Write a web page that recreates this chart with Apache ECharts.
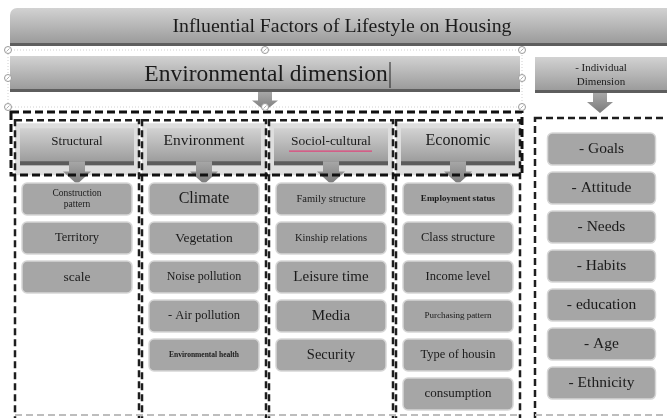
<!DOCTYPE html>
<html><head><meta charset="utf-8">
<script src="https://cdn.jsdelivr.net/npm/echarts@6/dist/echarts.min.js"></script>
<style>html,body{margin:0;padding:0;background:#fff}#c{width:667px;height:418px}</style>
</head><body><div id="c"></div>
<script>
// ---------- content ----------
const chartTitle = 'Influential Factors of Lifestyle on Housing';
const dimensionEnv = 'Environmental dimension';
const dimensionInd = '- Individual\nDimension';
const categories = ['Structural', 'Environment', 'Sociol-cultural', 'Economic'];
const structuralItems = ['Construction\npattern', 'Territory', 'scale'];
const environmentItems = ['Climate', 'Vegetation', 'Noise pollution', '- Air pollution', 'Environmental health'];
const socioCulturalItems = ['Family structure', 'Kinship relations', 'Leisure time', 'Media', 'Security'];
const economicItems = ['Employment status', 'Class structure', 'Income level', 'Purchasing pattern', 'Type of housin', 'consumption'];
const individualItems = ['- Goals', '- Attitude', '- Needs', '- Habits', '- education', '- Age', '- Ethnicity'];

// ---------- styles (kept apart from content) ----------
const headerFontSize = {'Structural': 13, 'Environment': 15.5, 'Sociol-cultural': 13.5, 'Economic': 16};
const itemFontSize = {
  'Construction\npattern': 9.5, 'Territory': 12.5, 'scale': 13.5,
  'Climate': 16, 'Vegetation': 13.5, 'Noise pollution': 12, '- Air pollution': 12.5, 'Environmental health': 7.5,
  'Family structure': 10.5, 'Kinship relations': 10.5, 'Leisure time': 15, 'Media': 15, 'Security': 14.5,
  'Employment status': 9, 'Class structure': 12.5, 'Income level': 12.5, 'Purchasing pattern': 9, 'Type of housin': 12.5, 'consumption': 13
};
const boldItems = {'Environmental health': true, 'Employment status': true};
const FONT = "'Liberation Serif', 'DejaVu Serif', serif";
const TXT = '#1b1b1b';

// layout grid: one unit = one column / one row
const headerRow = -1.38;
const individualCol = 4.13;
const individualRowOffset = -1.28;

const columnLists = [structuralItems, environmentItems, socioCulturalItems, economicItems];
const itemData = [], itemLabels = [];
columnLists.forEach((list, c) => list.forEach((lab, r) => { itemData.push([c, r]); itemLabels.push(lab); }));
individualItems.forEach((lab, r) => { itemData.push([individualCol, r + individualRowOffset]); itemLabels.push(lab); });

const headerGrad = {type:'linear', x:0, y:0, x2:0, y2:1, colorStops:[{offset:0, color:'#d2d2d2'}, {offset:1, color:'#979797'}]};
const arrowGrad = {type:'linear', x:0, y:0, x2:0, y2:1, colorStops:[{offset:0, color:'#a8a8a8'}, {offset:1, color:'#7a7a7a'}]};

function arrowPoints(cx, y0, y1, shaft, head) {
  const ym = y0 + (y1 - y0) * 0.45;
  return [[cx - shaft, y0], [cx + shaft, y0], [cx + shaft, ym], [cx + head, ym], [cx, y1], [cx - head, ym], [cx - shaft, ym]];
}

function renderHeader(params, api) {
  const p = api.coord([api.value(0), api.value(1)]);
  const cx = p[0], cy = p[1];
  const name = categories[params.dataIndex];
  const children = [
    {type:'rect', shape:{x:cx - 62, y:cy - 22, width:124, height:52}, style:{fill:'#dedede'}},
    {type:'rect', shape:{x:cx - 62, y:cy - 25, width:124, height:330}, style:{fill:'none', stroke:'#1e1e1e', lineWidth:2.5, lineDash:[7, 4]}},
    {type:'rect', shape:{x:cx - 57, y:cy - 17, width:114, height:37}, style:{fill:headerGrad}},
    {type:'rect', shape:{x:cx - 57, y:cy + 16, width:114, height:4}, style:{fill:'#5c5c5c'}},
    {type:'polygon', shape:{points:arrowPoints(cx, cy + 16, cy + 39, 8, 14)}, style:{fill:arrowGrad}},
    {type:'text', style:{text:name, x:cx, y:cy - 4, align:'center', verticalAlign:'middle', font:headerFontSize[name] + 'px ' + FONT, fill:TXT}}
  ];
  if (name === 'Sociol-cultural') {
    children.push({type:'line', shape:{x1:cx - 42, y1:cy + 6, x2:cx + 41, y2:cy + 6}, style:{stroke:'#e0457b', lineWidth:1.3}});
  }
  return {type:'group', children};
}

function renderItem(params, api) {
  const p = api.coord([api.value(0), api.value(1)]);
  const lab = itemLabels[params.dataIndex];
  const isInd = params.dataIndex >= itemLabels.length - individualItems.length;
  const fs = isInd ? 15.5 : itemFontSize[lab];
  const w = isInd ? 108 : 110, h = 32;
  return {
    type:'rect',
    shape:{x:p[0] - w / 2, y:p[1] - h / 2, width:w, height:h, r:5},
    style:{fill:'#a6a6a6', stroke:'#d6d6d6', lineWidth:1.5},
    textContent:{style:{text:lab, font:(boldItems[lab] ? 'bold ' : '') + fs + 'px ' + FONT, fill:TXT, align:'center', verticalAlign:'middle', lineHeight:fs + 1}},
    textConfig:{position:'inside'}
  };
}

const chart = echarts.init(document.getElementById('c'), null, {renderer:'canvas'});
const dotHandles = [];
[[8, 50], [265, 50], [522, 50], [8, 78], [522, 78], [8, 107], [265, 107], [522, 107]].forEach(h => {
  dotHandles.push({type:'circle', shape:{cx:h[0], cy:h[1], r:3.5}, style:{fill:'#fff', stroke:'#9a9a9a', lineWidth:1}, z:20});
  dotHandles.push({type:'line', shape:{x1:h[0] - 1.5, y1:h[1] + 1.5, x2:h[0] + 1.5, y2:h[1] - 1.5}, style:{stroke:'#9a9a9a', lineWidth:0.8}, z:21});
});

chart.setOption({
  animation:false,
  backgroundColor:'#fff',
  grid:{left:0, right:0, top:0, bottom:0},
  xAxis:{type:'value', min:-77 / 127, max:590 / 127, show:false},
  yAxis:{type:'value', inverse:true, min:-199 / 39, max:219 / 39, show:false},
  graphic:[
    // title bar
    {type:'rect', shape:{x:10, y:8, width:680, height:38, r:[7, 0, 0, 0]}, style:{fill:headerGrad}, z:1},
    {type:'rect', shape:{x:10, y:43, width:680, height:3}, style:{fill:'#5e5e5e'}, z:1},
    {type:'text', style:{text:chartTitle, x:342, y:27, align:'center', verticalAlign:'middle', font:'19.8px ' + FONT, fill:TXT}, z:2},
    // selection frame
    {type:'rect', shape:{x:8, y:50, width:514, height:57}, style:{fill:'none', stroke:'#c4c4c4', lineWidth:0.8, lineDash:[1, 2]}, z:1},
    // environmental dimension
    {type:'rect', shape:{x:10, y:56, width:510, height:36}, style:{fill:headerGrad}, z:1},
    {type:'rect', shape:{x:10, y:89, width:510, height:3}, style:{fill:'#5e5e5e'}, z:1},
    {type:'text', style:{text:dimensionEnv, x:266, y:75, align:'center', verticalAlign:'middle', font:'23.5px ' + FONT, fill:TXT}, z:2},
    {type:'line', shape:{x1:390, y1:62, x2:390, y2:88}, style:{stroke:'#222', lineWidth:1}, z:2},
    {type:'polygon', shape:{points:arrowPoints(265, 92, 111, 7, 13)}, style:{fill:arrowGrad}, z:2},
    // individual dimension
    {type:'rect', shape:{x:535, y:57, width:140, height:36}, style:{fill:headerGrad}, z:1},
    {type:'rect', shape:{x:535, y:90, width:140, height:3}, style:{fill:'#5e5e5e'}, z:1},
    {type:'text', style:{text:dimensionInd, x:601, y:75, align:'center', verticalAlign:'middle', font:'11px ' + FONT, fill:TXT, lineHeight:14}, z:2},
    {type:'polygon', shape:{points:arrowPoints(600, 93, 113, 7, 13)}, style:{fill:arrowGrad}, z:2},
    {type:'rect', shape:{x:535, y:118, width:200, height:330}, style:{fill:'none', stroke:'#1e1e1e', lineWidth:2.5, lineDash:[7, 4]}, z:1},
    // header row frame
    {type:'rect', shape:{x:11, y:112, width:511, height:63}, style:{fill:'none', stroke:'#111', lineWidth:3, lineDash:[8, 4]}, z:10},
    // light bottom edges
    {type:'line', shape:{x1:15, y1:415, x2:521, y2:415}, style:{stroke:'#bdbdbd', lineWidth:2, lineDash:[7, 4]}, z:10},
    {type:'line', shape:{x1:535, y1:415, x2:667, y2:415}, style:{stroke:'#bdbdbd', lineWidth:2, lineDash:[7, 4]}, z:10}
  ].concat(dotHandles),
  series:[
    {type:'custom', name:'categories', coordinateSystem:'cartesian2d', data:categories.map((n, i) => [i, headerRow]), renderItem:renderHeader, z:3, silent:true},
    {type:'custom', name:'factors', coordinateSystem:'cartesian2d', data:itemData, renderItem:renderItem, z:4, silent:true}
  ]
});
</script></body></html>
